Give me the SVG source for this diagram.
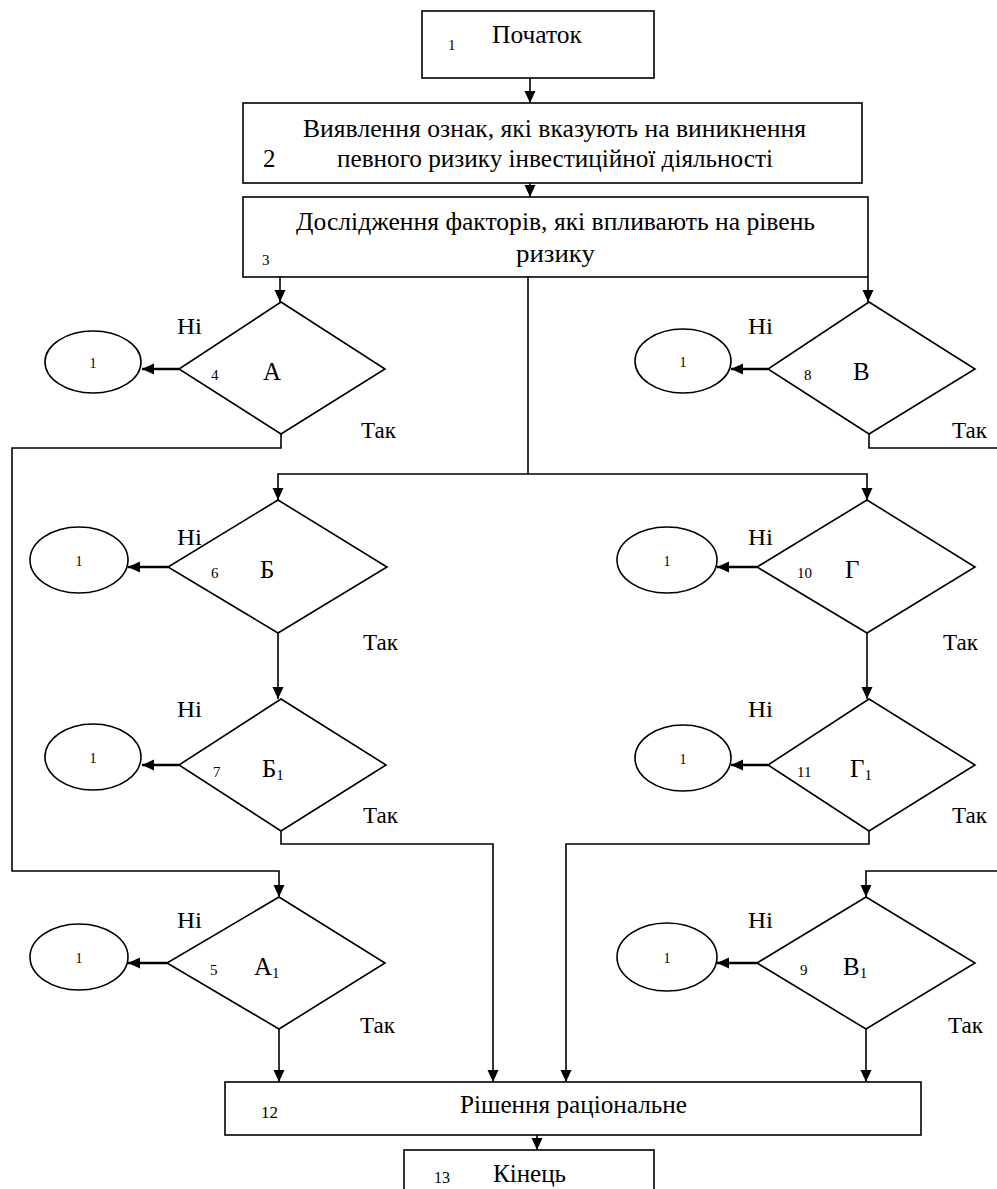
<svg xmlns="http://www.w3.org/2000/svg" width="997" height="1189" viewBox="0 0 997 1189" font-family="'Liberation Serif', 'Times New Roman', serif">
<style>
.s{fill:#fff;stroke:#000;stroke-width:1.6}
.c{fill:none;stroke:#000;stroke-width:1.6}
.ct{fill:none;stroke:#000;stroke-width:2.6}
text{font-family:'Liberation Serif','Times New Roman',serif;fill:#000}
.t{font-size:25px}
.n{font-size:15px}
.e{font-size:14px;text-anchor:middle}
.l{font-size:24px}
.sub{font-size:15px}
</style>
<defs>
<marker id="ah" markerUnits="userSpaceOnUse" markerWidth="12" markerHeight="12" refX="12" refY="6" orient="auto"><path d="M0,0.5 L12,6 L0,11.5 z" fill="#000"/></marker>
</defs>
<rect width="997" height="1189" fill="#fff"/>
<g id="connectors">
<path class="c" d="M530 78 V103" marker-end="url(#ah)"/>
<path class="c" d="M530 183 V197" marker-end="url(#ah)"/>
<path class="c" d="M280 277 V302" marker-end="url(#ah)"/>
<path class="c" d="M868 277 V302" marker-end="url(#ah)"/>
<path class="c" d="M528 277 V474"/>
<path class="c" d="M528 474 H278 V500" marker-end="url(#ah)"/>
<path class="c" d="M528 474 H867 V500" marker-end="url(#ah)"/>
<path class="ct" d="M179 369 H142" marker-end="url(#ah)"/>
<path class="ct" d="M768 369 H731" marker-end="url(#ah)"/>
<path class="ct" d="M168 567 H128" marker-end="url(#ah)"/>
<path class="ct" d="M757 567 H717" marker-end="url(#ah)"/>
<path class="ct" d="M179 765 H142" marker-end="url(#ah)"/>
<path class="ct" d="M768 765 H731" marker-end="url(#ah)"/>
<path class="ct" d="M167 963 H128" marker-end="url(#ah)"/>
<path class="ct" d="M757 963 H717" marker-end="url(#ah)"/>
<path class="c" d="M281 434 V448 H12 V871 H279 V897" marker-end="url(#ah)"/>
<path class="c" d="M869 434 V448 H1010 V871 H866 V897" marker-end="url(#ah)"/>
<path class="c" d="M278 633 V699" marker-end="url(#ah)"/>
<path class="c" d="M867 633 V699" marker-end="url(#ah)"/>
<path class="c" d="M281 831 V844 H493 V1082" marker-end="url(#ah)"/>
<path class="c" d="M869 831 V844 H566 V1082" marker-end="url(#ah)"/>
<path class="c" d="M279 1029 V1082" marker-end="url(#ah)"/>
<path class="c" d="M866 1029 V1082" marker-end="url(#ah)"/>
<path class="c" d="M537 1135 V1150" marker-end="url(#ah)"/>
</g>
<g id="n1">
<rect class="s" x="422" y="11" width="232" height="67"/>
<text class="n" x="448" y="50">1</text>
<text class="t" x="492" y="43" textLength="90" lengthAdjust="spacingAndGlyphs">Початок</text>
</g>
<g id="n2">
<rect class="s" x="243" y="103" width="619" height="80"/>
<text class="t" x="263" y="167">2</text>
<text class="t" x="303" y="137" textLength="503" lengthAdjust="spacingAndGlyphs">Виявлення ознак, які вказують на виникнення</text>
<text class="t" x="337" y="167" textLength="436" lengthAdjust="spacingAndGlyphs">певного ризику інвестиційної діяльності</text>
</g>
<g id="n3">
<rect class="s" x="243" y="197" width="625" height="80"/>
<text class="n" x="262" y="265">3</text>
<text class="t" x="296" y="230" textLength="519" lengthAdjust="spacingAndGlyphs">Дослідження факторів, які впливають на рівень</text>
<text class="t" x="516" y="262" textLength="79" lengthAdjust="spacingAndGlyphs">ризику</text>
</g>
<g id="n4">
<polygon class="s" points="281,302 385,369 281,434 179,369"/>
<text class="l" x="177" y="334" textLength="25" lengthAdjust="spacingAndGlyphs">Ні</text>
<text class="n" x="211" y="380">4</text>
<text class="t" x="263" y="380">А</text>
<text class="l" x="361" y="438" textLength="35" lengthAdjust="spacingAndGlyphs">Так</text>
<ellipse class="s" cx="93" cy="362" rx="48" ry="31"/>
<text class="e" x="93" y="368">1</text>
</g>
<g id="n8">
<polygon class="s" points="869,302 975,369 869,434 768,369"/>
<text class="l" x="748" y="334" textLength="25" lengthAdjust="spacingAndGlyphs">Ні</text>
<text class="n" x="804" y="380">8</text>
<text class="t" x="853" y="380">В</text>
<text class="l" x="952" y="438" textLength="35" lengthAdjust="spacingAndGlyphs">Так</text>
<ellipse class="s" cx="683" cy="361" rx="48" ry="32"/>
<text class="e" x="683" y="367">1</text>
</g>
<g id="n6">
<polygon class="s" points="278,500 387,567 278,633 168,567"/>
<text class="l" x="177" y="545" textLength="25" lengthAdjust="spacingAndGlyphs">Ні</text>
<text class="n" x="211" y="578">6</text>
<text class="t" x="260" y="578">Б</text>
<text class="l" x="363" y="650" textLength="35" lengthAdjust="spacingAndGlyphs">Так</text>
<ellipse class="s" cx="79" cy="560" rx="49" ry="33"/>
<text class="e" x="79" y="566">1</text>
</g>
<g id="n10">
<polygon class="s" points="867,500 975,567 867,633 757,567"/>
<text class="l" x="748" y="545" textLength="25" lengthAdjust="spacingAndGlyphs">Ні</text>
<text class="n" x="797" y="578">10</text>
<text class="t" x="845" y="578">Г</text>
<text class="l" x="943" y="650" textLength="35" lengthAdjust="spacingAndGlyphs">Так</text>
<ellipse class="s" cx="667" cy="560" rx="50" ry="33"/>
<text class="e" x="667" y="566">1</text>
</g>
<g id="n7">
<polygon class="s" points="281,699 386,765 281,831 179,765"/>
<text class="l" x="177" y="717" textLength="25" lengthAdjust="spacingAndGlyphs">Ні</text>
<text class="n" x="213" y="777">7</text>
<text class="t" x="262" y="777">Б<tspan class="sub" dy="3">1</tspan></text>
<text class="l" x="363" y="823" textLength="35" lengthAdjust="spacingAndGlyphs">Так</text>
<ellipse class="s" cx="93" cy="757" rx="48" ry="33"/>
<text class="e" x="93" y="763">1</text>
</g>
<g id="n11">
<polygon class="s" points="869,699 975,765 869,831 768,765"/>
<text class="l" x="748" y="717" textLength="25" lengthAdjust="spacingAndGlyphs">Ні</text>
<text class="n" x="797" y="777">11</text>
<text class="t" x="850" y="777">Г<tspan class="sub" dy="3">1</tspan></text>
<text class="l" x="952" y="823" textLength="35" lengthAdjust="spacingAndGlyphs">Так</text>
<ellipse class="s" cx="683" cy="758" rx="48" ry="33"/>
<text class="e" x="683" y="764">1</text>
</g>
<g id="n5">
<polygon class="s" points="279,897 385,963 279,1029 167,963"/>
<text class="l" x="177" y="928" textLength="25" lengthAdjust="spacingAndGlyphs">Ні</text>
<text class="n" x="210" y="975">5</text>
<text class="t" x="254" y="975">А<tspan class="sub" dy="3">1</tspan></text>
<text class="l" x="360" y="1033" textLength="35" lengthAdjust="spacingAndGlyphs">Так</text>
<ellipse class="s" cx="79" cy="957" rx="49" ry="33"/>
<text class="e" x="79" y="963">1</text>
</g>
<g id="n9">
<polygon class="s" points="866,897 975,963 866,1029 757,963"/>
<text class="l" x="748" y="928" textLength="25" lengthAdjust="spacingAndGlyphs">Ні</text>
<text class="n" x="800" y="975">9</text>
<text class="t" x="843" y="975">В<tspan class="sub" dy="3">1</tspan></text>
<text class="l" x="948" y="1033" textLength="35" lengthAdjust="spacingAndGlyphs">Так</text>
<ellipse class="s" cx="667" cy="957" rx="50" ry="34"/>
<text class="e" x="667" y="963">1</text>
</g>
<g id="n12">
<rect class="s" x="225" y="1082" width="696" height="53"/>
<text class="n" x="261" y="1118" style="font-size:17px">12</text>
<text class="t" x="460" y="1113" textLength="227" lengthAdjust="spacingAndGlyphs">Рішення раціональне</text>
</g>
<g id="n13">
<rect class="s" x="404" y="1150" width="250" height="60"/>
<text class="n" x="434" y="1183" style="font-size:16px">13</text>
<text class="t" x="493" y="1182" textLength="73" lengthAdjust="spacingAndGlyphs">Кінець</text>
</g>
</svg>
